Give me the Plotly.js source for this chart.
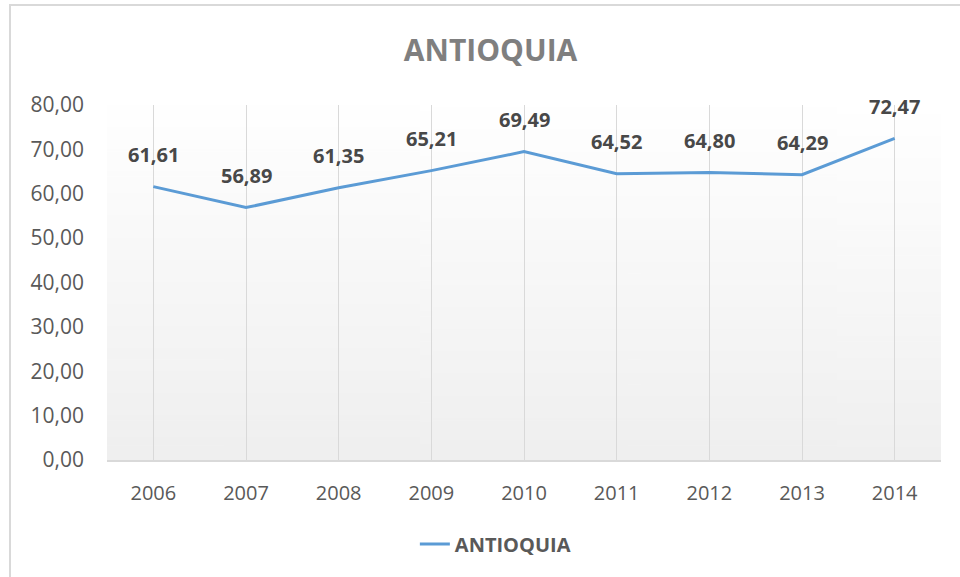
<!DOCTYPE html>
<html>
<head>
<meta charset="utf-8">
<script src="https://cdn.plot.ly/plotly-3.0.1.min.js"></script>
<style>
  body { margin: 0; background: #fff; }
  #wrap { position: relative; width: 960px; height: 577px; overflow: hidden; }
  #frame { position: absolute; left: 9px; top: 4px; width: 980px; height: 600px;
           border-left: 2px solid #d9d9d9; border-top: 2px solid #d9d9d9; pointer-events: none; }
</style>
</head>
<body>
<div id="wrap">
  <div id="chart" style="width:960px;height:577px;"></div>
  <div id="frame"></div>
</div>
<script>
const years = ["2006", "2007", "2008", "2009", "2010", "2011", "2012", "2013", "2014"];
const values = [61.61, 56.89, 61.35, 65.21, 69.49, 64.52, 64.80, 64.29, 72.47];
const seriesName = "ANTIOQUIA";

// soft vertical gradient for the plot area (white at top, light gray at bottom)
function gradientImage(){
    let c = document.createElement("canvas");
    c.width = 4; c.height = 256;
    let ctx = c.getContext("2d");
    let g = ctx.createLinearGradient(0, 0, 0, 256);
    g.addColorStop(0, "#ffffff");
    g.addColorStop(1, "#efefef");
    ctx.fillStyle = g;
    ctx.fillRect(0, 0, 4, 256);
    return c.toDataURL();
}

const fontFam = "'Open Sans', 'DejaVu Sans', sans-serif";

var data = [{
    x: years,
    y: values,
    name: seriesName,
    type: "scatter",
    mode: "lines",
    line: {color: "#5B9BD5", width: 3},
    hoverinfo: "skip"
}];

// value labels above each point (category index, since the names look numeric)
var labels = [];
for(let i = 0; i < years.length; i++){
    labels.push({
        x: i, y: values[i], xref: "x", yref: "y",
        text: "<b>" + values[i].toFixed(2).replace(".", ",") + "</b>",
        showarrow: false, yanchor: "middle", yshift: 32,
        font: {family: fontFam, size: 20, color: "#484848"}
    });
}

const layout = {
    width: 960, height: 577,
    margin: {l: 107, r: 19, t: 105, b: 117},
    paper_bgcolor: "#ffffff",
    plot_bgcolor: "rgba(0,0,0,0)",
    separators: ",.",
    font: {family: fontFam, color: "#595959"},
    title: {
        text: "<b>ANTIOQUIA</b>",
        xref: "container", x: 0.511, xanchor: "center",
        yref: "container", y: 0.913, yanchor: "middle",
        font: {family: fontFam, size: 30, color: "#7f7f7f"}
    },
    xaxis: {
        type: "category",
        range: [-0.5, 8.5],
        showgrid: true, gridcolor: "#d9d9d9", gridwidth: 1,
        showline: true, linecolor: "#d9d9d9", linewidth: 1.5,
        zeroline: false,
        ticks: "",
        ticklabelstandoff: 14,
        tickfont: {family: fontFam, size: 20, color: "#595959"}
    },
    yaxis: {
        range: [0, 80],
        dtick: 10,
        tickformat: ".2f",
        showgrid: false, zeroline: false, showline: false,
        ticks: "",
        ticklabelstandoff: 22,
        tickfont: {family: fontFam, size: 21, color: "#595959"}
    },
    showlegend: true,
    legend: {
        orientation: "h",
        xref: "container", x: 0.516, xanchor: "center",
        yref: "container", y: 0.057, yanchor: "middle",
        font: {family: fontFam, size: 20, color: "#595959", weight: "bold"}
    },
    annotations: labels,
    images: [{
        source: gradientImage(),
        xref: "paper", yref: "paper", x: 0, y: 1, sizex: 1, sizey: 1,
        xanchor: "left", yanchor: "top", sizing: "stretch", layer: "below"
    }]
};

Plotly.newPlot("chart", data, layout, {displayModeBar: false, staticPlot: true});
</script>
</body>
</html>
